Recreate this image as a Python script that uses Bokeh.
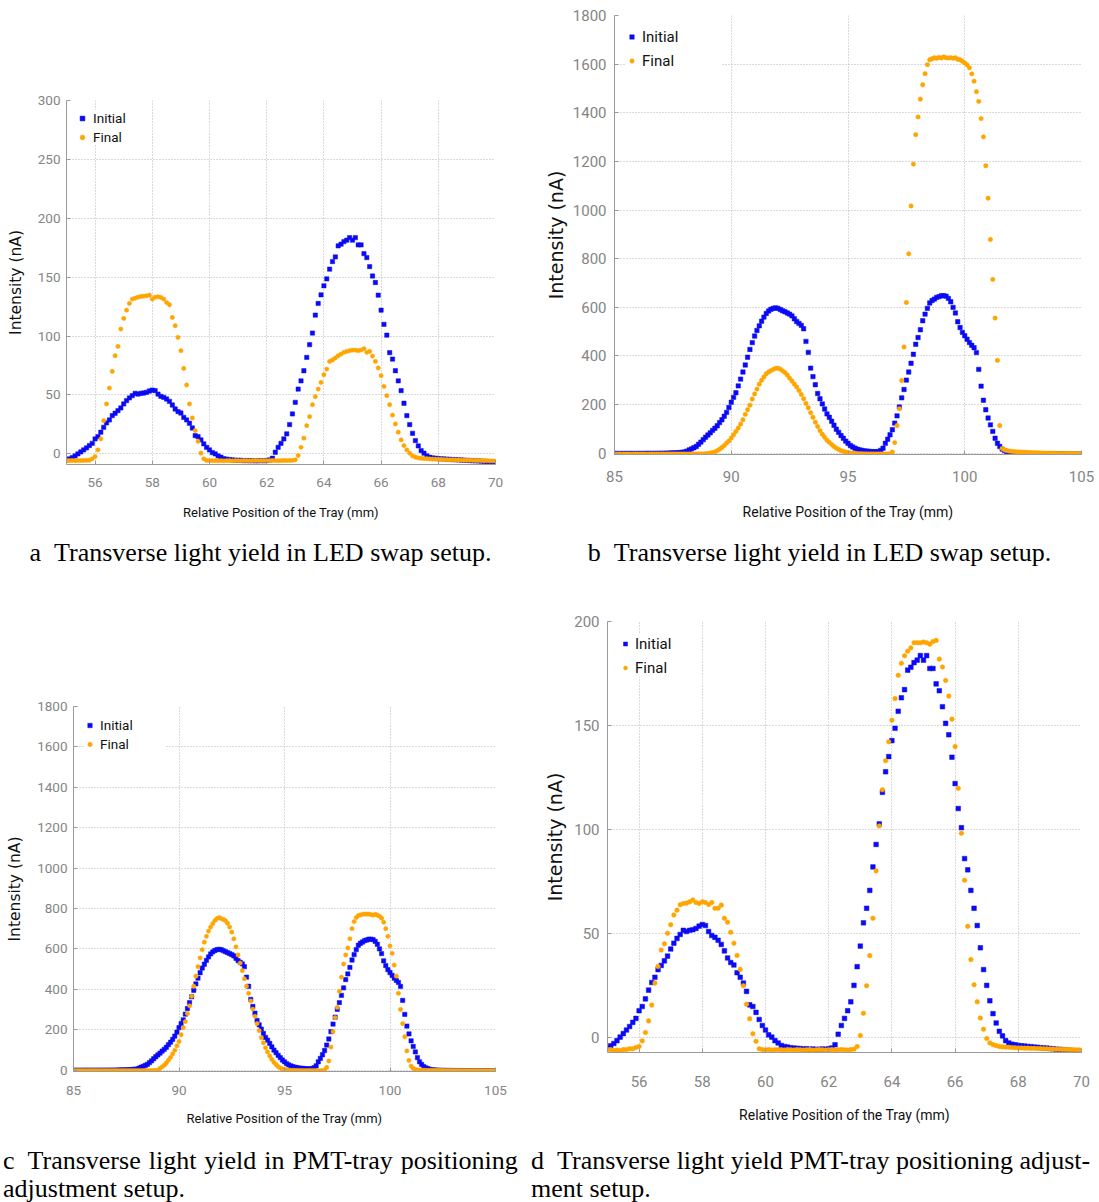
from bokeh.plotting import figure
from bokeh.models import Range1d, FixedTicker, Legend, LegendItem, Div
from bokeh.layouts import column, row
from bokeh.embed import file_html
from bokeh.resources import INLINE

# ---------------- data ----------------
# scans are sampled every 0.1 mm
x_step = 0.1
x_start_ad = 55.0      # panels a and d
x_start_bc = 85.0      # panels b and c

x_ticks_ad = [56, 58, 60, 62, 64, 66, 68, 70]
x_ticks_bc = [85, 90, 95, 100, 105]
y_ticks_a = [0, 50, 100, 150, 200, 250, 300]
y_ticks_bc = [0, 200, 400, 600, 800, 1000, 1200, 1400, 1600, 1800]
y_ticks_d = [0, 50, 100, 150, 200]

# Initial scan (panels a and d), nA, x = 55.0 .. 70.0
initial_ad = [
    -5.1, -4.2, -3.1, -1.7, 0.0, 1.7, 3.4, 5.1, 7.1, 9.0,
    12.7, 14.7, 18.4, 22.6, 26.3, 28.8, 32.5, 34.5, 36.7, 39.0,
    42.4, 45.2, 47.5, 49.4, 51.4, 50.8, 51.4, 51.7, 52.3, 53.4,
    54.2, 53.7, 50.8, 48.9, 48.0, 46.6, 44.6, 41.5, 38.1, 35.9,
    34.7, 31.0, 28.8, 26.0, 22.0, 15.5, 14.7, 11.9, 8.5, 5.6,
    3.4, 1.1, 0.0, -1.7, -2.8, -4.0, -4.5, -4.8, -5.1, -5.3,
    -5.4, -5.5, -5.7, -5.6, -5.8, -5.7, -5.9, -5.8, -5.7, -5.8,
    -5.6, -5.2, -3.7, 1.4, 5.6, 9.0, 12.7, 17.0, 24.9, 33.9,
    43.8, 55.0, 62.0, 70.6, 81.9, 92.7, 102.6, 117.8, 127.7, 135.0,
    142.7, 148.6, 156.8, 163.3, 167.2, 176.6, 178.0, 180.2, 181.4, 183.6,
    181.4, 183.6, 177.4, 177.4, 170.0, 166.7, 159.0, 151.0, 145.5, 134.7,
    122.0, 110.0, 100.8, 85.9, 80.5, 70.6, 62.0, 53.7, 43.0, 32.5,
    24.9, 17.5, 11.3, 6.8, 2.8, 0.6, -1.7, -2.8, -3.4, -3.7,
    -4.0, -4.2, -4.3, -4.5, -4.6, -4.8, -4.9, -5.1, -5.2, -5.3,
    -5.5, -5.6, -5.8, -5.9, -6.0, -6.2, -6.3, -6.5, -6.6, -6.8,
    -7.0,
]

# Final scan, panel a
final_a = [
    -5.6, -5.7, -5.6, -5.8, -5.6, -5.7, -5.6, -5.5, -5.4, -4.2,
    -2.3, 3.4, 12.7, 28.2, 42.4, 55.9, 70.0, 83.3, 91.2, 106.0,
    115.0, 122.0, 127.7, 131.4, 132.2, 133.0, 133.6, 133.9, 134.2, 134.7,
    131.4, 133.0, 133.3, 132.8, 131.4, 128.5, 126.6, 115.8, 108.8, 98.9,
    87.6, 72.6, 58.5, 42.4, 30.5, 19.8, 10.7, 0.6, -4.2, -5.6,
    -5.7, -5.8, -5.7, -5.9, -5.8, -5.9, -5.8, -5.7, -5.9, -5.8,
    -5.8, -5.9, -5.7, -5.8, -5.9, -5.8, -5.6, -5.8, -5.7, -5.8,
    -5.7, -5.8, -5.6, -5.7, -5.8, -5.7, -5.6, -5.7, -5.6, -5.5,
    -5.1, -1.4, 5.6, 13.3, 24.0, 31.6, 41.8, 48.6, 55.0, 60.7,
    67.2, 72.0, 78.5, 79.7, 81.4, 83.3, 84.7, 86.2, 87.0, 87.6,
    88.1, 88.1, 87.6, 88.1, 89.3, 86.2, 87.0, 83.0, 78.5, 72.9,
    66.4, 57.3, 49.4, 41.8, 33.0, 25.4, 18.4, 11.9, 7.1, 3.4,
    0.6, -1.7, -2.8, -3.4, -3.7, -4.0, -4.1, -4.3, -4.4, -4.5,
    -4.6, -4.7, -4.8, -4.9, -5.0, -5.0, -5.1, -5.2, -5.2, -5.3,
    -5.4, -5.4, -5.5, -5.6, -5.6, -5.7, -5.8, -5.8, -5.9, -6.0,
    -6.0,
]

# Final scan, panel d
final_d = [
    -6.0, -6.0, -6.4, -6.2, -6.4, -6.0, -6.0, -5.6, -5.6, -5.0,
    -4.5, -1.8, 2.2, 7.8, 15.4, 26.0, 34.0, 41.9, 44.9, 50.0,
    54.1, 58.8, 61.1, 63.7, 64.3, 64.5, 65.1, 66.0, 64.8, 64.3,
    65.1, 64.8, 63.8, 64.8, 62.0, 62.0, 63.5, 57.2, 55.3, 50.5,
    45.2, 39.3, 32.6, 24.7, 15.8, 8.8, 1.6, -2.0, -5.6, -6.0,
    -6.1, -6.0, -6.2, -6.1, -6.0, -6.1, -6.2, -6.0, -6.1, -6.2,
    -6.0, -6.1, -6.2, -6.1, -6.0, -6.2, -6.1, -6.0, -6.1, -6.2,
    -6.1, -6.0, -6.2, -6.1, -6.0, -6.1, -6.2, -6.0, -5.8, -4.5,
    0.8, 11.5, 24.7, 39.2, 57.2, 80.0, 101.6, 119.0, 133.0, 142.1,
    152.5, 162.9, 174.1, 179.9, 183.5, 185.7, 187.3, 189.8, 189.8, 189.8,
    190.1, 189.8, 189.1, 190.4, 190.9, 181.9, 178.1, 171.6, 164.1, 153.0,
    139.8, 119.7, 98.1, 75.5, 53.3, 37.3, 25.2, 17.0, 9.2, 3.8,
    -0.7, -2.8, -3.6, -4.1, -4.5, -4.7, -4.8, -4.9, -5.0, -5.1,
    -5.2, -5.2, -5.3, -5.3, -5.4, -5.4, -5.5, -5.5, -5.6, -5.6,
    -5.7, -5.7, -5.8, -5.8, -5.9, -5.9, -6.0, -6.0, -6.1, -6.1,
    -6.2,
]

# Initial scan (panels b and c), nA, x = 85.0 .. 105.0
initial_bc = [
    -1.0, -0.8, -1.2, -0.9, -1.1, -1.0, -0.7, -0.9, -1.0, -0.8,
    -0.9, -0.6, -0.8, -0.7, -0.5, -0.6, -0.4, -0.5, -0.3, -0.2,
    0.0, 0.2, 0.4, 0.6, 0.9, 1.3, 1.8, 2.4, 3.1, 4.0,
    5, 9, 14, 18, 23, 28, 37, 46, 56, 66,
    75, 84, 94, 103, 113, 126, 138, 152, 168, 188,
    210, 230, 249, 277, 305, 334, 363, 395, 427, 455,
    482, 505, 524, 543, 560, 575, 585, 592, 596, 598,
    596, 591, 586, 582, 577, 572, 565, 553, 542, 534,
    526, 512, 460, 415, 350, 315, 282, 246, 224, 203,
    182, 162, 148, 132, 115, 99, 86, 73, 62, 50,
    41, 32, 26, 21, 17, 14, 12, 10, 9, 8,
    7, 6, 6, 7, 12, 21, 41, 58, 76, 97,
    124, 154, 190, 228, 262, 301, 334, 370, 407, 448,
    476, 508, 545, 572, 596, 618, 628, 634, 641, 644,
    648, 648, 646, 637, 623, 600, 577, 541, 517, 497,
    483, 469, 455, 444, 434, 414, 345, 276, 218, 179,
    145, 117, 90, 62, 41, 28, 17, 11, 7, 3,
    1.5, 0.5, -0.2, -0.8, -1.2, -1.5, -1.8, -2.0, -2.2, -2.3,
    -2.4, -2.5, -2.6, -2.6, -2.7, -2.8, -2.8, -2.9, -3.0, -3.0,
    -3.1, -3.1, -3.2, -3.2, -3.3, -3.3, -3.4, -3.4, -3.5, -3.5,
    -3.6,
]

# Final scan, panel b
final_b = [
    -3.0, -3.2, -3.1, -3.3, -3.0, -3.2, -3.1, -3.3, -3.2, -3.0,
    -3.1, -3.2, -3.0, -3.1, -3.3, -3.2, -3.0, -3.1, -3.2, -3.1,
    -3.0, -3.1, -3.2, -3.0, -3.1, -2.9, -3.0, -3.1, -2.9, -3.0,
    -2.9, -3.0, -2.8, -2.9, -2.7, -2.8, -2.6, -2.5, -2.3, -2.0,
    -1, 1, 3, 6, 11, 17, 24, 32, 42, 51,
    63, 76, 90, 104, 120, 138, 160, 179, 198, 223,
    244, 264, 284, 300, 314, 327, 334, 340, 345, 349,
    350, 346, 339, 332, 322, 309, 297, 285, 273, 258,
    242, 224, 205, 187, 167, 148, 128, 110, 93, 78,
    66, 54, 45, 36, 28, 21, 16, 11, 8, 5,
    3, 1, 0, -1.0, -1.5, -2.0, -2.2, -2.4, -2.5, -2.6,
    -2.7, -2.8, -2.8, -2.9, -2.9, -3.0, -3.0, -2.9, -2.5, 5,
    44, 114, 183, 299, 437, 620, 820, 1017, 1189, 1310,
    1383, 1456, 1515, 1561, 1598, 1618, 1622, 1626, 1624, 1628,
    1625, 1630, 1626, 1625, 1627, 1624, 1626, 1620, 1618, 1612,
    1605, 1597, 1585, 1560, 1530, 1487, 1447, 1376, 1301, 1182,
    1049, 879, 715, 556, 382, 114, 20, 14, 11, 9,
    8, 7, 6, 5.5, 5, 4.5, 4, 3.5, 3, 2.6,
    2.2, 1.9, 1.6, 1.3, 1.0, 0.7, 0.5, 0.3, 0.1, -0.1,
    -0.3, -0.5, -0.6, -0.8, -1.0, -1.1, -1.2, -1.4, -1.5, -1.6,
    -1.7,
]

# Final scan, panel c
final_c = [
    -3.0, -3.1, -3.0, -3.2, -3.1, -3.0, -3.2, -3.1, -3.0, -3.1,
    -3.2, -3.0, -3.1, -3.0, -3.2, -3.1, -3.0, -3.1, -3.2, -3.0,
    -3.1, -3.0, -3.1, -3.2, -3.0, -3.1, -3.0, -2.9, -3.0, -2.9,
    -2.9, -2.8, -2.9, -2.7, -2.8, -2.6, -2.5, -2.4, -2.2, -2.0,
    0, 8, 16, 24, 35, 49, 63, 80, 98, 120,
    142, 175, 210, 240, 280, 318, 365, 415, 465, 512,
    555, 596, 633, 662, 688, 708, 725, 740, 750, 755,
    750, 746, 740, 727, 708, 683, 650, 610, 570, 530,
    492, 452, 415, 380, 342, 302, 266, 230, 195, 160,
    135, 110, 90, 70, 53, 38, 27, 17, 10, 6,
    3, 1, -0.5, -1.2, -1.6, -1.9, -2.1, -2.3, -2.4, -2.5,
    -2.6, -2.6, -2.7, -2.7, -2.8, -2.8, -2.8, -2.7, -2.5, -1.5,
    13, 45, 114, 190, 260, 310, 390, 460, 525, 570,
    605, 650, 700, 735, 755, 765, 768, 771, 772, 772,
    772, 770, 767, 771, 767, 762, 752, 732, 700, 662,
    615, 578, 520, 465, 380, 300, 230, 165, 95, 48,
    20, 8, 3, 1.0, 0.2, -0.3, -0.7, -1.0, -1.2, -1.4,
    -1.5, -1.7, -1.8, -1.9, -2.0, -2.1, -2.2, -2.2, -2.3, -2.3,
    -2.4, -2.4, -2.5, -2.5, -2.6, -2.6, -2.6, -2.7, -2.7, -2.7,
    -2.8, -2.8, -2.8, -2.9, -2.9, -2.9, -3.0, -3.0, -3.0, -3.0,
    -3.1,
]

series_labels = ["Initial", "Final"]
x_title = "Relative Position of the Tray (mm)"
y_title = "Intensity (nA)"
cap_a = "a&ensp;Transverse light yield in LED swap setup."
cap_b = "b&ensp;Transverse light yield in LED swap setup."
cap_c = ('<span style="word-spacing:1.5px">c&ensp;Transverse light yield in PMT-tray positioning</span>'
         '<br>adjustment setup.')
cap_d = "d&ensp;Transverse light yield PMT-tray positioning adjust-<br>ment setup."


def grid_x(start, n):
    return [round(start + x_step * i, 1) for i in range(n)]


x_ad = grid_x(x_start_ad, len(initial_ad))
x_bc = grid_x(x_start_bc, len(initial_bc))

# ---------------- style ----------------
BLUE = "#0a0af5"
ORANGE = "#ffa500"
NARROW = "Roboto, 'Liberation Sans', sans-serif"
AXIS_GREY = "#9a9a9a"
LABEL_GREY = "#858585"


def make_panel(xv, init, fin, xr, yr, xt, yt, w, h, borders, fs, stand, leg, msize):
    bl, br, bt, bb = borders
    tick_fs, xtitle_fs, ytitle_fs, leg_fs = fs
    xl_st, xt_st, yl_st, yt_st = stand
    p = figure(width=w, height=h, x_range=Range1d(*xr), y_range=Range1d(*yr),
               output_backend="svg", toolbar_location=None,
               min_border_left=bl, min_border_right=br,
               min_border_top=bt, min_border_bottom=bb)
    p.frame_align = False
    p.margin = 0
    p.outline_line_color = None
    p.background_fill_color = "white"
    p.border_fill_color = "white"

    r_i = p.scatter(xv, init, marker="square", size=msize,
                    fill_color=BLUE, line_color=BLUE, line_width=0.5)
    r_f = p.scatter(xv, fin, marker="circle", size=msize,
                    fill_color=ORANGE, line_color=ORANGE, line_width=0.5)

    p.xaxis.ticker = FixedTicker(ticks=xt)
    p.yaxis.ticker = FixedTicker(ticks=yt)
    for ax in (p.xaxis[0], p.yaxis[0]):
        ax.axis_line_color = AXIS_GREY
        ax.major_tick_line_color = AXIS_GREY
        ax.major_tick_in = 4
        ax.major_tick_out = 0
        ax.minor_tick_line_color = None
        ax.major_label_text_color = LABEL_GREY
        ax.major_label_text_font = NARROW
        ax.major_label_text_font_size = f"{tick_fs}px"
        ax.axis_label_text_font_style = "normal"
        ax.axis_label_text_color = "#111111"
    p.xaxis.axis_label = x_title
    p.xaxis.axis_label_text_font = NARROW
    p.xaxis.axis_label_text_font_size = f"{xtitle_fs}px"
    p.xaxis.major_label_standoff = xl_st
    p.xaxis.axis_label_standoff = xt_st
    p.yaxis.axis_label = y_title
    p.yaxis.axis_label_text_font = "DejaVu Sans"
    p.yaxis.axis_label_text_font_size = f"{ytitle_fs}px"
    p.yaxis.major_label_standoff = yl_st
    p.yaxis.axis_label_standoff = yt_st

    for g in (p.xgrid[0], p.ygrid[0]):
        g.grid_line_color = "#b4b4b4"
        g.grid_line_dash = "1 2"
        g.grid_line_width = 1

    mg, pad, sp, gw, st, lh, lw = leg
    legend = Legend(items=[LegendItem(label=series_labels[0], renderers=[r_i]),
                           LegendItem(label=series_labels[1], renderers=[r_f])],
                    location="top_left", margin=mg, padding=pad, spacing=sp,
                    glyph_width=gw, glyph_height=lh, label_height=lh,
                    label_width=lw, label_standoff=st,
                    label_text_font=NARROW, label_text_font_size=f"{leg_fs}px",
                    label_text_color="#111111",
                    background_fill_color="white", background_fill_alpha=1.0,
                    border_line_color=None)
    p.add_layout(legend)
    return p


# borders: (left, right, top, bottom); fonts: (tick, x title, y title, legend)
# standoffs: (x labels, x title, y labels, y title)
# legend: (margin, padding, spacing, glyph width, label standoff, item height, label width)
p_a = make_panel(x_ad, initial_ad, final_a, (55, 70), (-9, 300), x_ticks_ad, y_ticks_a,
                 540, 530, (66, 45, 100, 66), (13.5, 13, 15.5, 13.5), (13, 15, 6, 10),
                 (10, 8, 3, 12, 5, 16, 49), 4.3)
p_b = make_panel(x_bc, initial_bc, final_b, (85, 105), (-5, 1800), x_ticks_bc, y_ticks_bc,
                 559, 530, (74, 18, 15, 76), (15, 14, 19, 15), (16, 19, 8, 3),
                 (12, 10, 5, 11, 5, 19, 79), 4.4)
p_c = make_panel(x_bc, initial_bc, final_c, (85, 105), (-7, 1800), x_ticks_bc, y_ticks_bc,
                 540, 546, (73, 45, 112, 69), (13.5, 13, 15.5, 13.5), (14, 13, 6, 10),
                 (11, 8, 3, 11, 5, 16, 65), 4.3)
p_d = make_panel(x_ad, initial_ad, final_d, (55, 70), (-7.4, 200), x_ticks_ad, y_ticks_d,
                 559, 546, (67, 18, 27, 88), (15, 14, 19, 15), (23, 17, 8, 5),
                 (13, 10, 5, 10, 5, 19, 56), 4.6)

CAP = ("font-family:'Liberation Serif','DejaVu Serif',serif;font-size:26px;"
       "color:#000;white-space:nowrap;box-sizing:border-box;")


def cap_div(text, w, h, extra):
    d = Div(text=f'<div style="{CAP}{extra}">{text}</div>', width=w, height=h)
    d.margin = 0
    return d


d_a = cap_div(cap_a, 540, 64, "width:521px;text-align:center;padding-top:9px;line-height:28px;")
d_b = cap_div(cap_b, 559, 64, "width:559px;text-align:center;padding-top:9px;line-height:28px;")
d_c = cap_div(cap_c, 540, 62, "width:540px;text-align:left;padding-top:7px;padding-left:3px;"
                              "line-height:27.5px;overflow:hidden;")
d_d = cap_div(cap_d, 559, 62, "width:568px;text-align:left;padding-top:7px;"
                              "line-height:27.5px;overflow:hidden;margin-left:-9px;")

layout = column(row(p_a, p_b), row(d_a, d_b), row(p_c, p_d), row(d_c, d_d))
layout.margin = 0

with open("out.html", "w") as f:
    f.write(file_html(layout, INLINE, "Transverse light yield"))
